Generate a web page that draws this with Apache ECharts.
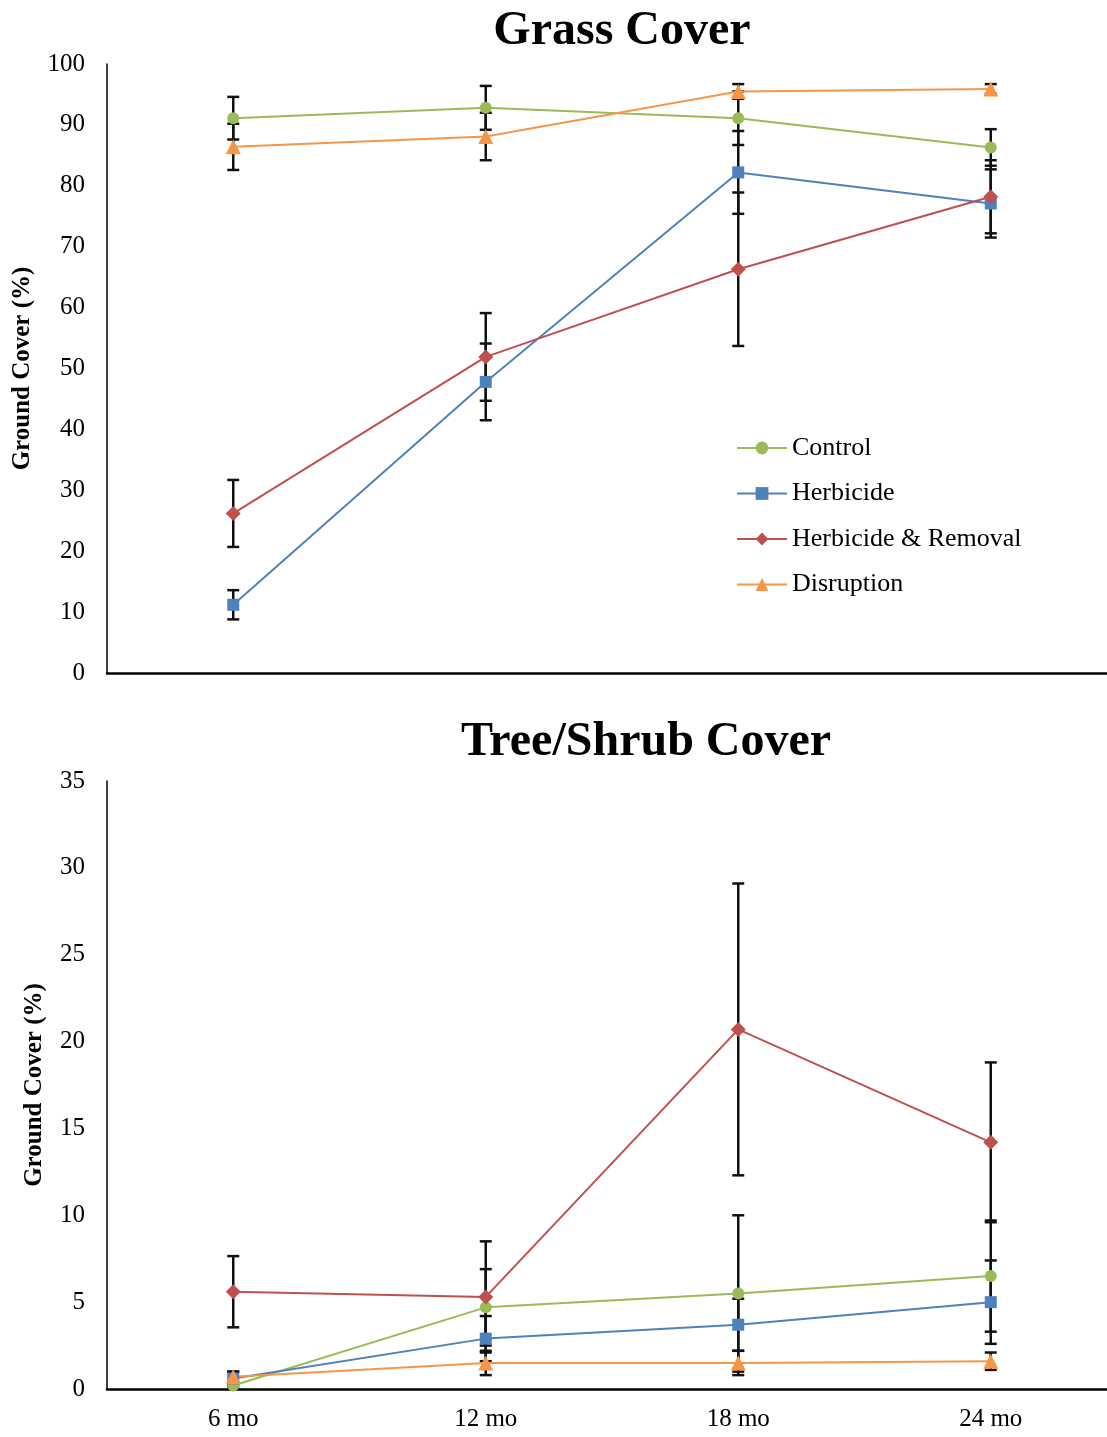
<!DOCTYPE html>
<html>
<head>
<meta charset="utf-8">
<script src="https://cdn.jsdelivr.net/npm/echarts@6/dist/echarts.min.js"></script>
<style>
  html, body { margin: 0; padding: 0; background: #fff; }
  #main { width: 1107px; height: 1437px; }
</style>
</head>
<body>
<div id="main"></div>
<script>
const categories = ['6 mo', '12 mo', '18 mo', '24 mo'];
const seriesNames = ['Control', 'Herbicide', 'Herbicide & Removal', 'Disruption'];

// grass cover, mean and error
const grassControl = [91.1, 92.8, 91.1, 86.3];
const grassHerbicide = [11.2, 47.8, 82.2, 77.1];
const grassRemoval = [26.2, 51.9, 66.3, 78.2];
const grassDisruption = [86.4, 88.1, 95.5, 95.9];
const grassControlErr = [3.5, 3.6, 4.4, 3.0];
const grassHerbicideErr = [2.4, 6.3, 6.8, 5.6];
const grassRemovalErr = [5.5, 7.2, 12.6, 6.0];
const grassDisruptionErr = [3.8, 3.9, 1.2, 0.8];

// tree/shrub cover, mean and error
const shrubControl = [0.2, 4.7, 5.5, 6.5];
const shrubHerbicide = [0.6, 2.9, 3.7, 5.0];
const shrubRemoval = [5.6, 5.3, 20.7, 14.2];
const shrubDisruption = [0.7, 1.5, 1.5, 1.6];
const shrubControlErr = [0.1, 2.2, 4.5, 3.2];
const shrubHerbicideErr = [0.4, 1.3, 1.5, 2.4];
const shrubRemovalErr = [2.05, 3.2, 8.4, 4.6];
const shrubDisruptionErr = [0.3, 0.7, 0.7, 0.5];

const colors = ['#9BBB59', '#4F81BD', '#C0504D', '#F79646'];
const symbols = ['circle', 'rect', 'diamond', 'triangle'];
const symbolSizes = [12, 12, 15, 15];
const font = '"Liberation Serif", "Times New Roman", serif';

const chart = echarts.init(document.getElementById('main'));

function lineSeries(i, values, gridIdx) {
    return {
        name: seriesNames[i],
        type: 'line',
        xAxisIndex: gridIdx,
        yAxisIndex: gridIdx,
        data: values,
        symbol: symbols[i],
        symbolSize: symbolSizes[i],
        color: colors[i],
        lineStyle: { width: 2, color: colors[i] },
        itemStyle: { color: colors[i] },
        z: 3
    };
}

function errorSeries(values, errs, gridIdx) {
    return {
        type: 'custom',
        xAxisIndex: gridIdx,
        yAxisIndex: gridIdx,
        silent: true,
        z: 2,
        data: values.map((v, k) => [k, v, errs[k]]),
        encode: { x: 0, y: 1 },
        renderItem: function (params, api) {
            const k = api.value(0), v = api.value(1), e = api.value(2);
            const hi = api.coord([k, v + e]);
            const lo = api.coord([k, v - e]);
            const w = 6;
            const style = { stroke: '#111', lineWidth: 2.5 };
            return {
                type: 'group',
                children: [
                    { type: 'line', shape: { x1: hi[0], y1: hi[1], x2: lo[0], y2: lo[1] }, style: style },
                    { type: 'line', shape: { x1: hi[0] - w, y1: hi[1], x2: hi[0] + w, y2: hi[1] }, style: style },
                    { type: 'line', shape: { x1: lo[0] - w, y1: lo[1], x2: lo[0] + w, y2: lo[1] }, style: style }
                ]
            };
        }
    };
}

const yAxisCommon = {
    type: 'value',
    nameLocation: 'middle',
    nameRotate: 90,
    nameTextStyle: { fontFamily: font, fontWeight: 'bold', fontSize: 25, color: '#000' },
    axisLine: { show: true, lineStyle: { color: '#000', width: 1.5 } },
    axisTick: { show: false },
    splitLine: { show: false },
    axisLabel: { fontFamily: font, fontSize: 25, color: '#000', margin: 22 }
};

const option = {
    animation: false,
    backgroundColor: '#fff',
    title: [
        {
            text: 'Grass Cover', left: 617, top: 3, textAlign: 'center',
            textStyle: { fontFamily: font, fontWeight: 'bold', fontSize: 48, color: '#000' }
        },
        {
            text: 'Tree/Shrub Cover', left: 641, top: 714, textAlign: 'center',
            textStyle: { fontFamily: font, fontWeight: 'bold', fontSize: 48, color: '#000' }
        }
    ],
    legend: {
        data: seriesNames,
        orient: 'vertical',
        left: 731,
        top: 430,
        itemWidth: 50,
        itemHeight: 16,
        itemGap: 19.5,
        textStyle: { fontFamily: font, fontSize: 26, color: '#000' }
    },
    grid: [
        { left: 107, width: 1010, top: 64, height: 609, outerBoundsMode: 'none' },
        { left: 107, width: 1010, top: 781, height: 608, outerBoundsMode: 'none' }
    ],
    xAxis: [
        {
            type: 'category', gridIndex: 0, data: categories,
            axisLine: { lineStyle: { color: '#000', width: 2.5 } },
            axisTick: { show: false }, axisLabel: { show: false }
        },
        {
            type: 'category', gridIndex: 1, data: categories,
            axisLine: { lineStyle: { color: '#000', width: 2.5 } },
            axisTick: { show: false },
            axisLabel: { fontFamily: font, fontSize: 25, color: '#000', margin: 18 }
        }
    ],
    yAxis: [
        Object.assign({}, yAxisCommon, { gridIndex: 0, min: 0, max: 100, interval: 10, name: 'Ground Cover (%)', nameGap: 72 }),
        Object.assign({}, yAxisCommon, { gridIndex: 1, min: 0, max: 35, interval: 5, name: 'Ground Cover (%)', nameGap: 60 })
    ],
    series: [
        errorSeries(grassControl, grassControlErr, 0),
        errorSeries(grassHerbicide, grassHerbicideErr, 0),
        errorSeries(grassRemoval, grassRemovalErr, 0),
        errorSeries(grassDisruption, grassDisruptionErr, 0),
        errorSeries(shrubControl, shrubControlErr, 1),
        errorSeries(shrubHerbicide, shrubHerbicideErr, 1),
        errorSeries(shrubRemoval, shrubRemovalErr, 1),
        errorSeries(shrubDisruption, shrubDisruptionErr, 1),
        lineSeries(0, grassControl, 0),
        lineSeries(1, grassHerbicide, 0),
        lineSeries(2, grassRemoval, 0),
        lineSeries(3, grassDisruption, 0),
        lineSeries(0, shrubControl, 1),
        lineSeries(1, shrubHerbicide, 1),
        lineSeries(2, shrubRemoval, 1),
        lineSeries(3, shrubDisruption, 1)
    ]
};

chart.setOption(option);
</script>
</body>
</html>
